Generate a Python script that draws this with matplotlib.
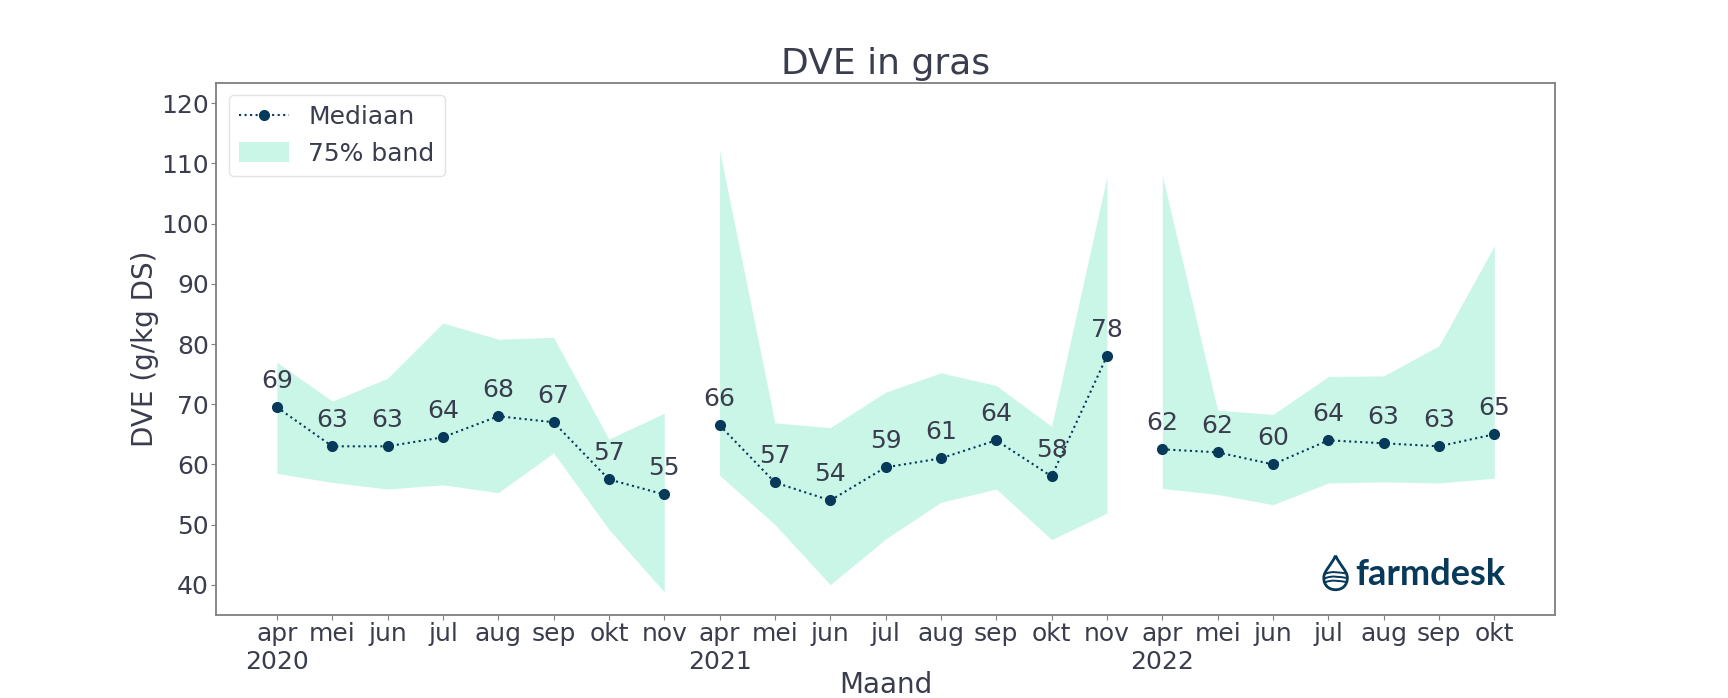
import matplotlib
matplotlib.use("Agg")
import matplotlib.pyplot as plt
from matplotlib.path import Path
from matplotlib.patches import PathPatch

# ============================================================
# DATA
# ============================================================

YEARS = ["2020", "2021", "2022"]

MONTHS_2020 = ["apr", "mei", "jun", "jul", "aug", "sep", "okt", "nov"]
MONTHS_2021 = ["apr", "mei", "jun", "jul", "aug", "sep", "okt", "nov"]
MONTHS_2022 = ["apr", "mei", "jun", "jul", "aug", "sep", "okt"]

MEDIAN_2020 = [69.5, 63.0, 63.0, 64.5, 68.0, 67.0, 57.5, 55.0]
MEDIAN_2021 = [66.5, 57.0, 54.0, 59.5, 61.0, 64.0, 58.0, 78.0]
MEDIAN_2022 = [62.5, 62.0, 60.0, 64.0, 63.5, 63.0, 65.0]

UPPER_2020 = [77.0, 70.5, 74.3, 83.5, 80.8, 81.1, 64.2, 68.5]
UPPER_2021 = [112.2, 66.9, 66.1, 72.0, 75.2, 73.1, 66.3, 107.8]
UPPER_2022 = [108.0, 69.0, 68.3, 74.6, 74.7, 79.7, 96.3]

LOWER_2020 = [58.5, 57.0, 55.9, 56.6, 55.3, 61.9, 49.2, 38.8]
LOWER_2021 = [58.2, 50.0, 40.0, 47.6, 53.7, 55.9, 47.5, 51.9]
LOWER_2022 = [56.0, 55.0, 53.3, 56.9, 57.1, 56.9, 57.7]

# ============================================================
# STYLE
# ============================================================

NAVY = "#06395a"
MINT = "#c9f6e7"
TEXT = "#3a3d4d"
SPINE = "#7f7f7f"

plt.rcParams["font.family"] = ["DejaVu Sans"]
plt.rcParams["text.color"] = TEXT
plt.rcParams["axes.labelcolor"] = TEXT
plt.rcParams["xtick.color"] = SPINE
plt.rcParams["ytick.color"] = SPINE
plt.rcParams["xtick.labelcolor"] = TEXT
plt.rcParams["ytick.labelcolor"] = TEXT


def draw_logo(ax):
    # droplet outline + waves, then the word mark
    cx, cy = 0.836, 0.080
    w, h = 0.0088, 0.064
    verts = [
        (cx, cy + h * 0.5),
        (cx - w * 0.4, cy + h * 0.2),
        (cx - w, cy + h * 0.05),
        (cx - w, cy - h * 0.15),
        (cx - w, cy - h * 0.38),
        (cx - w * 0.55, cy - h * 0.5),
        (cx, cy - h * 0.5),
        (cx + w * 0.55, cy - h * 0.5),
        (cx + w, cy - h * 0.38),
        (cx + w, cy - h * 0.15),
        (cx + w, cy + h * 0.05),
        (cx + w * 0.4, cy + h * 0.2),
        (cx, cy + h * 0.5),
    ]
    codes = [Path.MOVETO] + [Path.CURVE4] * 12
    ax.add_patch(PathPatch(Path(verts, codes), transform=ax.transAxes,
                           facecolor="none", edgecolor=NAVY, lw=2.0))
    for dy in (-0.05, -0.18, -0.30):
        wave = Path(
            [(cx - w, cy + h * dy), (cx - w * 0.3, cy + h * (dy + 0.12)),
             (cx + w * 0.4, cy + h * (dy + 0.05)), (cx + w, cy + h * (dy + 0.02))],
            [Path.MOVETO, Path.CURVE4, Path.CURVE4, Path.CURVE4],
        )
        ax.add_patch(PathPatch(wave, transform=ax.transAxes,
                               facecolor="none", edgecolor=NAVY, lw=1.4))
    ax.text(0.8505, cy - 0.004, "farmdesk", transform=ax.transAxes,
            fontsize=26, fontweight="bold", family="Lato", color=NAVY,
            ha="left", va="center")


def main() -> None:
    months = [MONTHS_2020, MONTHS_2021, MONTHS_2022]
    medians = [MEDIAN_2020, MEDIAN_2021, MEDIAN_2022]
    uppers = [UPPER_2020, UPPER_2021, UPPER_2022]
    lowers = [LOWER_2020, LOWER_2021, LOWER_2022]

    fig, ax = plt.subplots(figsize=(17.28, 6.98), dpi=100)
    fig.subplots_adjust(left=0.125, right=0.9, top=0.8815, bottom=0.1185)

    tick_pos, tick_lab = [], []
    h_med = h_band = None
    start = 0
    for i, year in enumerate(YEARS):
        xs = list(range(start, start + len(months[i])))
        band = ax.fill_between(xs, lowers[i], uppers[i], color=MINT, lw=0)
        (line,) = ax.plot(xs, medians[i], linestyle=":", marker="o",
                          color=NAVY, markersize=7, linewidth=1.5)
        if i == 0:
            h_med, h_band = line, band
        for x, v in zip(xs, medians[i]):
            ax.annotate(f"{int(v)}", (x, v), textcoords="offset points",
                        xytext=(0, 14), ha="center", fontsize=18, color=TEXT)
        for j, m in enumerate(months[i]):
            tick_pos.append(xs[j])
            tick_lab.append(f"{m}\n{year}" if j == 0 else m)
        start += len(months[i])

    all_low = LOWER_2020 + LOWER_2021 + LOWER_2022
    all_up = UPPER_2020 + UPPER_2021 + UPPER_2022
    ax.set_ylim(min(all_low) * 0.9, max(all_up) * 1.1)

    ax.set_xticks(tick_pos)
    ax.set_xticklabels(tick_lab, fontsize=18)
    ax.tick_params(axis="x", pad=1.5)
    ax.tick_params(axis="y", labelsize=18, pad=1.5)
    for s in ax.spines.values():
        s.set_color(SPINE)
        s.set_linewidth(1.3)

    ax.set_title("DVE in gras", fontsize=26, color=TEXT)
    ax.set_xlabel("Maand", fontsize=20, labelpad=-2)
    ax.set_ylabel("DVE (g/kg DS)", fontsize=20, labelpad=2)

    leg = ax.legend([h_med, h_band], ["Mediaan", "75% band"],
                    loc="upper left", fontsize=18, frameon=True,
                    handlelength=2.0, handleheight=0.9)
    leg.get_frame().set_edgecolor("#dddddd")
    for t in leg.get_texts():
        t.set_color(TEXT)

    draw_logo(ax)

    fig.savefig("out.png", dpi=100)


if __name__ == "__main__":
    main()
